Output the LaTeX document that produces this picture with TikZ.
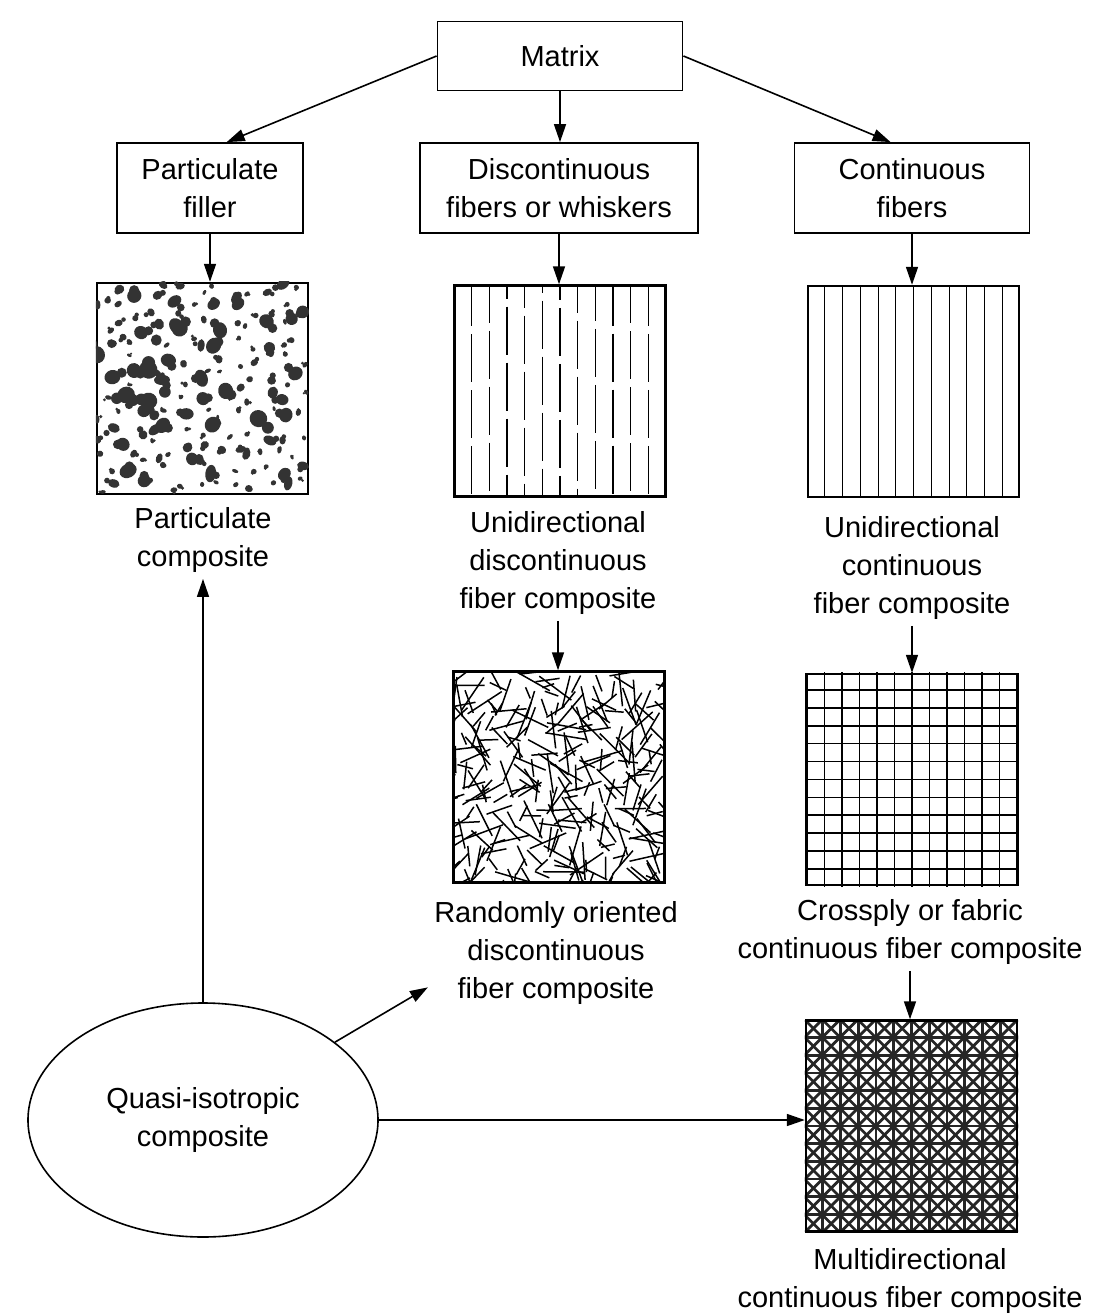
\documentclass[tikz,border=0pt]{standalone}
\usepackage{fontspec}
\setmainfont{Liberation Sans}
\usetikzlibrary{arrows.meta,shapes.geometric}

\begin{document}
\begin{tikzpicture}
[x=0.5pt,y=-0.5pt,
every node/.style={font=\fontsize{14.5}{19}\selectfont},
catbox/.style={rectangle,draw,line width=0.9pt,align=center,minimum height=45pt,inner sep=2pt},
lbl/.style={align=center,inner sep=3pt},
sqframe/.style={rectangle,draw,line width=1.2pt,minimum size=105.5pt,inner sep=0pt},
arr/.style={line width=0.8pt,-{Triangle[length=9pt,width=6pt]}},
fiber/.style={line width=0.75pt},
gridline/.style={line width=0.8pt},
weave/.style={line width=1.4pt,black!85}
]
\useasboundingbox (0,0) rectangle (1094,1316);
\pgfmathsetseed{11}

% category boxes
\node[catbox,minimum width=122.5pt,minimum height=34.5pt] (matrix) at (560,56) {Matrix};
\node[catbox,minimum width=93pt] (partfill) at (210,188) {Particulate\\filler};
\node[catbox,minimum width=139pt] (discfib) at (559,188) {Discontinuous\\fibers or whiskers};
\node[catbox,minimum width=117.5pt] (contfib) at (912,188) {Continuous\\fibers};

% squares
\node[sqframe] (partsq) at (202.5,388.5) {};
\node[sqframe] (discsq) at (560,391) {};
\node[sqframe] (contsq) at (913.5,391.5) {};
\node[sqframe] (randsq) at (559,777) {};
\node[sqframe] (crosssq) at (912,779.5) {};
\node[sqframe] (multisq) at (911.5,1126) {};

% labels
\node[lbl] (partlab) at (203,540) {Particulate\\composite};
\node[lbl] (disclab) at (558,563) {Unidirectional\\discontinuous\\fiber composite};
\node[lbl] (contlab) at (912,568) {Unidirectional\\continuous\\fiber composite};
\node[lbl] (randlab) at (556,953) {Randomly oriented\\discontinuous\\fiber composite};
\node[lbl] (crosslab) at (910,932) {Crossply or fabric\\continuous fiber composite};
\node[lbl] (multilab) at (910,1281) {Multidirectional\\continuous fiber composite};

\node[ellipse,draw,line width=0.8pt,minimum width=175pt,minimum height=117pt,align=center] (quasi) at (203,1120) {Quasi-isotropic\\composite};

% particles
\begin{scope}
\clip (partsq.south west) rectangle (partsq.north east);
\foreach \r in {0,...,11} {
\foreach \c in {0,...,12} {
  \pgfmathsetmacro\px{97+(\c+rnd)*16.2}
  \pgfmathsetmacro\py{284+(\r+rnd)*17.4}
  \pgfmathsetmacro\pa{2.5+6.5*rnd^2}
  \pgfmathsetmacro\pb{\pa*(0.55+0.55*rnd)}
  \pgfmathsetmacro\pr{180*rnd}
  \pgfmathsetmacro\qx{\px+(rnd-0.5)*2.4*\pa}
  \pgfmathsetmacro\qy{\py+(rnd-0.5)*2.4*\pb}
  \fill[black!80,rotate around={\pr:(\px,\py)}] (\px,\py) ellipse [x radius=\pa, y radius=\pb];
  \fill[black!80] (\qx,\qy) circle [radius=0.7*\pb];
}}
\end{scope}

% discontinuous aligned fibers
\foreach \i in {1,...,11} {
  \pgfmathsetmacro\ph{28*rnd}
  \draw[fiber,dash pattern=on 24pt off 4pt,dash phase=\ph pt] (454+\i*17.67,285) -- (454+\i*17.67,497);
}

% continuous fibers
\foreach \i in {1,...,11}
  \draw[line width=0.5pt] (807+\i*17.75,285) -- (807+\i*17.75,498);

% random fibers
\begin{scope}
\clip (randsq.south west) rectangle (randsq.north east);
\foreach \r in {0,...,16} {
\foreach \c in {0,...,16} {
  \pgfmathsetmacro\fx{450+(\c+rnd)*12.8}
  \pgfmathsetmacro\fy{667+(\r+rnd)*12.9}
  \pgfmathsetmacro\fa{180*rnd}
  \pgfmathsetmacro\fl{12+30*rnd}
  \draw[fiber] (\fx,\fy) -- ++(\fa:\fl);
}}
\end{scope}

% crossply grid
\foreach \i in {1,...,11} {
  \draw[gridline] (807+\i*17.5,672) -- (807+\i*17.5,887);
  \draw[gridline] (807,672+\i*17.9) -- (1017,672+\i*17.9);
}

% multidirectional
\begin{scope}
\clip (multisq.south west) rectangle (multisq.north east);
\foreach \i in {1,...,11} {
  \draw[weave] (805+\i*17.75,1020) -- (805+\i*17.75,1232);
  \draw[weave] (805,1020+\i*17.67) -- (1018,1020+\i*17.67);
}
\foreach \k in {-12,...,12} {
  \draw[weave] (805+\k*17.75,1020) -- ++(212,212);
  \draw[weave] (805+\k*17.75,1232) -- ++(212,-212);
}
\end{scope}
\node[sqframe] at (multisq) {};

% arrows
\draw[arr] (matrix.west) -- (partfill.70);
\draw[arr] (matrix.south) -- (matrix.south |- discfib.north);
\draw[arr] (matrix.east) -- (contfib.115);
\draw[arr] (partfill.south) -- (partfill.south |- partsq.north);
\draw[arr] (discfib.south) -- (discfib.south |- discsq.north);
\draw[arr] (contfib.south) -- (contfib.south |- contsq.north);
\draw[arr] (disclab.south) -- (disclab.south |- randsq.north);
\draw[arr] (contlab.south) -- (contlab.south |- crosssq.north);
\draw[arr] (crosslab.south) -- (crosslab.south |- multisq.north);
\draw[arr] (quasi.north) -- (quasi.north |- partlab.south);
\draw[arr] (quasi) -- (randlab.195);
\draw[arr] (quasi.east) -- (quasi.east -| multisq.west);
\end{tikzpicture}
\end{document}
